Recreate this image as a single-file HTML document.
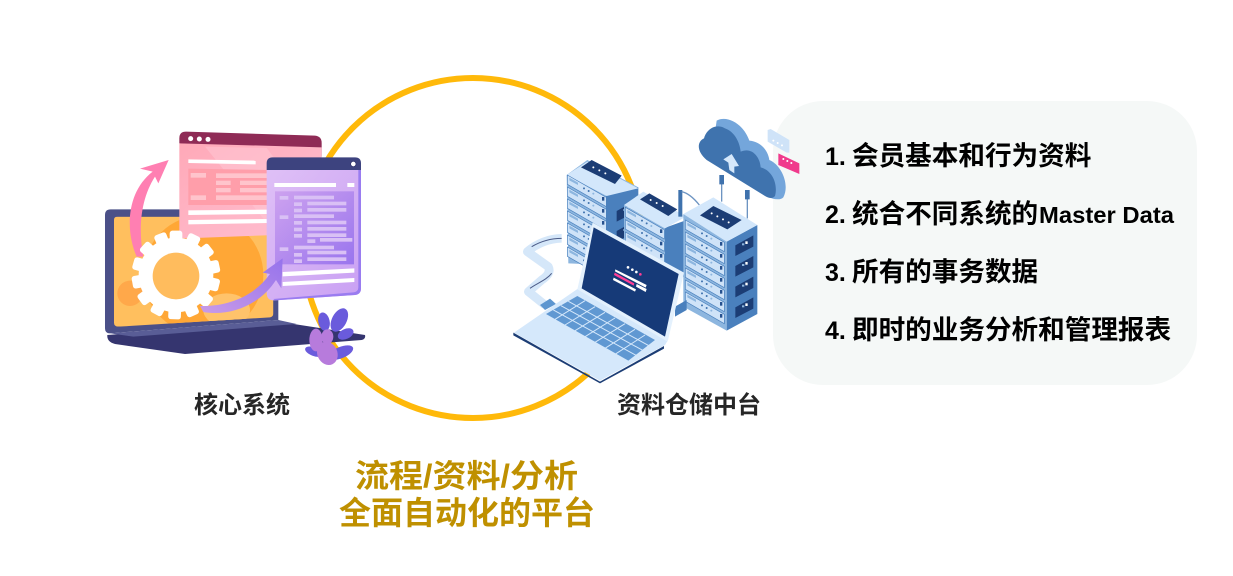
<!DOCTYPE html>
<html><head><meta charset="utf-8">
<style>
html,body{margin:0;padding:0;background:#fff;width:1233px;height:576px;overflow:hidden}
svg{display:block}
text{font-family:"Liberation Sans","Noto Sans CJK SC",sans-serif;font-weight:700}
</style></head>
<body>
<svg width="1233" height="576" viewBox="0 0 1233 576" xmlns="http://www.w3.org/2000/svg">
<defs>
<linearGradient id="pk" x1="0" y1="0" x2="1" y2="1"><stop offset="0" stop-color="#ffa9b8"/><stop offset="1" stop-color="#ffc0d2"/></linearGradient>
<linearGradient id="pu" x1="0" y1="0" x2="1" y2="1"><stop offset="0" stop-color="#dfc0f6"/><stop offset="1" stop-color="#c9a0f3"/></linearGradient>
<linearGradient id="in" x1="0" y1="0" x2="1" y2="1"><stop offset="0" stop-color="#cda2ef"/><stop offset="1" stop-color="#9a75ee"/></linearGradient>
<linearGradient id="ar" x1="0" y1="1" x2="1" y2="0"><stop offset="0" stop-color="#c99be8"/><stop offset="1" stop-color="#9673ec"/></linearGradient>
<clipPath id="scr"><path d="M72 300q0-10 10-10H540q10 0 10 10V580q0 10-10 12L85 620q-13 0-13-12Z"/></clipPath>
<g id="shelf">
<polygon points="0,0 117,67 117,95 0,28" fill="#cfe3f8" stroke="#4a80bd" stroke-width="2"/>
<polygon points="6,8 32,23 32,30 6,16" fill="#8db6df"/>
<circle cx="50" cy="40" r="3" fill="#3f72ad"/><circle cx="64" cy="48" r="3" fill="#3f72ad"/><circle cx="78" cy="56" r="3" fill="#8db6df"/>
<rect x="104" y="66" width="7" height="11" fill="#27528f"/>
</g>
<g id="port">
<polygon points="0,18 54,-12 54,22 0,50" fill="#1c3d75"/>
<rect x="30" y="6" width="7" height="8" fill="#fff"/><rect x="20" y="12" width="7" height="6" fill="#8db6df"/>
</g>
</defs>

<circle cx="473" cy="248" r="170" fill="none" stroke="#ffb90a" stroke-width="6"/>

<rect x="773" y="101" width="424" height="284" rx="50" ry="50" fill="#f5f8f7"/>

<!-- left illustration -->
<g transform="translate(90,120) scale(.33333)">
<path d="M45 285q0-17 17-17H550q15 0 15 15V600L60 640q-15 0-15-15Z" fill="#4b5088"/>
<path d="M52 645L565 605 825 645q3 12-10 15L285 702 75 672Q50 665 52 645Z" fill="#35356f"/>
<path d="M60 640L565 600 620 612 130 650Z" fill="#595d96"/>
<g clip-path="url(#scr)">
<rect x="72" y="290" width="480" height="330" fill="#ffbf5e"/>
<circle cx="340" cy="465" r="180" fill="#ffa736"/>
<ellipse cx="410" cy="570" rx="70" ry="50" fill="#ffc36b"/>
<circle cx="120" cy="520" r="38" fill="#ffa84a"/>
</g>

<path d="M268 55q0-20 20-20L675 47q20 2 20 22V110L268 70Z" fill="#8f2b56"/>
<path d="M268 70L695 82V340L285 355q-17 0-17-15Z" fill="url(#pk)"/>
<path d="M345 80L530 84 695 300V340L560 345Z" fill="#ffc6d3" opacity=".55"/>
<circle cx="302" cy="56" r="7.5" fill="#fff"/><circle cx="328" cy="57" r="7.5" fill="#fff"/><circle cx="354" cy="58" r="7.5" fill="#fff"/>
<polygon points="295,118 497,122 497,133 295,129" fill="#fff"/>
<polygon points="295,146 535,150 535,255 295,255" fill="#ff9eaa"/>
<g fill="#ffc4cc">
<rect x="302" y="159" width="46" height="14"/><rect x="378" y="160" width="155" height="14"/>
<rect x="378" y="182" width="44" height="13"/><rect x="450" y="182" width="85" height="13"/>
<rect x="378" y="204" width="44" height="13"/><rect x="450" y="204" width="85" height="13"/>
<rect x="302" y="226" width="46" height="14"/><rect x="378" y="226" width="155" height="14"/>
</g>
<polygon points="295,271 535,269 535,282 295,285" fill="#fff"/>
<polygon points="295,300 535,297 535,309 295,313" fill="#fff"/>

<path d="M140 410C105 330 110 215 188 155L150 146 236 120 205 190 195 170C150 240 145 330 160 410Z" fill="#ff7fb2"/>

<path d="M530 130q0-18 18-18H795q18 0 18 18V150L530 150Z" fill="#3d437f"/>
<path d="M530 150H813V505q0 18-18 20L555 541q-25 2-25-22Z" fill="url(#pu)"/>
<path d="M805 150H813V505q0 18-18 20L555 541l-5-4 240-20q15-2 15-15Z" fill="#9a7cf0"/>
<circle cx="790" cy="132" r="8" fill="#fff" stroke="#2a2f66" stroke-width="2"/>
<rect x="553" y="189" width="185" height="12" fill="#fff"/><rect x="772" y="189" width="21" height="12" fill="#fff"/>
<rect x="555" y="214" width="237" height="219" fill="url(#in)"/>
<g fill="#d9c0f5">
<rect x="569" y="228" width="26" height="11"/><rect x="612" y="227" width="120" height="11"/>
<rect x="612" y="247" width="24" height="11"/><rect x="652" y="245" width="117" height="11"/>
<rect x="612" y="266" width="24" height="11"/><rect x="652" y="264" width="117" height="11"/>
<rect x="569" y="286" width="26" height="11"/><rect x="612" y="283" width="120" height="11"/>
<rect x="612" y="303" width="24" height="11"/><rect x="652" y="302" width="117" height="11"/>
<rect x="612" y="323" width="24" height="11"/><rect x="652" y="321" width="117" height="11"/>
<rect x="612" y="342" width="24" height="11"/><rect x="652" y="340" width="117" height="11"/>
<rect x="652" y="358" width="24" height="11"/><rect x="690" y="354" width="97" height="11"/>
<rect x="569" y="382" width="26" height="11"/><rect x="612" y="377" width="120" height="11"/>
<rect x="612" y="399" width="24" height="11"/><rect x="652" y="392" width="117" height="11"/>
<rect x="612" y="418" width="24" height="11"/><rect x="652" y="412" width="117" height="11"/>
</g>
<polygon points="578,456 793,445 793,458 578,469" fill="#fff"/>
<polygon points="578,486 793,474 793,486 578,498" fill="#fff"/>

<g fill="#fff" transform="translate(258,465)">
<circle r="112"/>
<rect x="-19" y="-133" width="38" height="40" rx="8"/>
<rect x="-19" y="-133" width="38" height="40" rx="8" transform="rotate(26)"/>
<rect x="-19" y="-133" width="38" height="40" rx="8" transform="rotate(52)"/>
<rect x="-19" y="-133" width="38" height="40" rx="8" transform="rotate(78)"/>
<rect x="-19" y="-133" width="38" height="40" rx="8" transform="rotate(104)"/>
<rect x="-19" y="-133" width="38" height="40" rx="8" transform="rotate(130)"/>
<rect x="-19" y="-133" width="38" height="40" rx="8" transform="rotate(156)"/>
<rect x="-19" y="-133" width="38" height="40" rx="8" transform="rotate(182)"/>
<rect x="-19" y="-133" width="38" height="40" rx="8" transform="rotate(208)"/>
<rect x="-19" y="-133" width="38" height="40" rx="8" transform="rotate(234)"/>
<rect x="-19" y="-133" width="38" height="40" rx="8" transform="rotate(260)"/>
<rect x="-19" y="-133" width="38" height="40" rx="8" transform="rotate(286)"/>
<rect x="-19" y="-133" width="38" height="40" rx="8" transform="rotate(312)"/>
<rect x="-19" y="-133" width="38" height="40" rx="8" transform="rotate(338)"/>
</g>
<circle cx="258" cy="468" r="70" fill="#ffbc5d"/>

<path d="M330 558C420 560 495 525 540 462L518 458 578 415 574 505 558 480C510 555 420 590 340 576Z" fill="url(#ar)"/>

<g fill="#6a5bdc">
<ellipse cx="702" cy="605" rx="17" ry="28" transform="rotate(-12 702 605)"/>
<ellipse cx="748" cy="600" rx="22" ry="38" transform="rotate(28 748 600)"/>
<ellipse cx="767" cy="642" rx="25" ry="15" transform="rotate(-25 767 642)"/>
<ellipse cx="752" cy="698" rx="40" ry="17" transform="rotate(-22 752 698)"/>
<ellipse cx="672" cy="695" rx="28" ry="13" transform="rotate(20 672 695)"/>
</g>
<g fill="#b77bdc">
<ellipse cx="678" cy="660" rx="20" ry="34"/>
<ellipse cx="712" cy="700" rx="30" ry="36" transform="rotate(-25 712 700)"/>
<ellipse cx="712" cy="650" rx="18" ry="22"/>
</g>
</g>

<!-- right illustration -->
<g transform="translate(500,110) scale(.33333)">
<path d="M185 385C150 385 110 400 82 425L145 470Q155 490 125 510L85 545L135 585" fill="none" stroke="#d5e7f9" stroke-width="26" stroke-linejoin="round"/>
<path d="M185 385C150 385 120 395 95 410M155 490C140 510 110 520 90 535" fill="none" stroke="#4c5c88" stroke-width="3"/>
<polygon points="120,585 150,566 168,582 135,600" fill="#5d96d0"/>

<!-- cables -->
<path d="M665 195V275M742 240V325" stroke="#6d94c2" stroke-width="4" fill="none"/>
<path d="M658 195h14v28h-14zM735 240h14v28h-14z" fill="#3f72ad"/>

<!-- server 1 -->
<polygon points="200,195 262,150 415,232 380,260 318,255 318,465 205,460" fill="#8db6df"/>
<polygon points="318,255 415,232 415,400 318,460" fill="#4a80bd"/>
<polygon points="200,195 262,155 415,235 320,258" fill="#d3e7fb"/>
<polygon points="243,172 275,150 365,197 345,222" fill="#1c3d75"/>
<g fill="#fff"><circle cx="280" cy="172" r="3"/><circle cx="298" cy="181" r="3"/><circle cx="316" cy="190" r="3"/></g>
<use href="#port" x="350" y="285"/><use href="#port" x="350" y="345"/>
<use href="#shelf" x="202" y="195"/><use href="#shelf" x="202" y="231"/><use href="#shelf" x="202" y="267"/><use href="#shelf" x="202" y="303"/><use href="#shelf" x="202" y="339"/><use href="#shelf" x="202" y="375"/><use href="#shelf" x="202" y="411"/>

<!-- server 2 -->
<polygon points="490,355 560,330 560,500 490,500" fill="#4a80bd"/>
<polygon points="372,285 430,245 558,320 495,355" fill="#d3e7fb"/>
<polygon points="372,285 495,355 495,470 372,400" fill="#8db6df"/>
<polygon points="420,268 448,250 532,298 505,318" fill="#1c3d75"/>
<g fill="#fff"><circle cx="452" cy="270" r="3"/><circle cx="470" cy="279" r="3"/><circle cx="488" cy="288" r="3"/></g>
<use href="#shelf" x="376" y="292"/><use href="#shelf" x="376" y="329"/><use href="#shelf" x="376" y="366"/>

<path d="M541 320V240" fill="none" stroke="#3f72ad" stroke-width="12"/>
<path d="M545 245Q570 250 598 285" fill="none" stroke="#6d94c2" stroke-width="4"/>

<!-- server 3 -->
<polygon points="680,395 772,345 772,612 680,662" fill="#4a80bd"/>
<polygon points="550,312 640,262 772,345 680,395" fill="#d3e7fb"/>
<polygon points="550,312 680,395 680,662 550,590" fill="#8db6df"/>
<polygon points="600,316 640,288 725,330 682,358" fill="#1c3d75"/>
<g fill="#fff"><circle cx="635" cy="310" r="3"/><circle cx="652" cy="319" r="3"/><circle cx="669" cy="328" r="3"/><circle cx="686" cy="337" r="3"/></g>
<use href="#shelf" x="556" y="330"/><use href="#shelf" x="556" y="366"/><use href="#shelf" x="556" y="402"/><use href="#shelf" x="556" y="438"/><use href="#shelf" x="556" y="474"/><use href="#shelf" x="556" y="510"/><use href="#shelf" x="556" y="546"/>
<use href="#port" x="706" y="388"/><use href="#port" x="706" y="450"/><use href="#port" x="706" y="512"/><use href="#port" x="706" y="574"/>

<!-- laptop -->
<polygon points="525,590 560,570 560,600 525,620" fill="#4a80bd"/>
<polygon points="42,668 235,535 503,692 495,705 300,812" fill="#d5e8fb"/>
<polygon points="40,668 300,815 492,708 492,716 300,820 40,676" fill="#1c3d75"/>
<polygon points="138,612 232,558 465,690 385,752" fill="#6098d2"/>
<g stroke="#d5e8fb" stroke-width="3" fill="none">
<path d="M160 600L410 737M183 587L430 722M205 574L448 708"/>
<path d="M165 628L255 572M195 645L285 590M225 662L315 607M255 680L345 624M285 697L375 641M315 715L405 658M345 733L435 675"/>
</g>
<polygon points="278,338 552,488 503,695 232,538" fill="#e4f1fd"/>
<polygon points="281,352 536,492 495,680 245,535" fill="#163a78"/>
<g fill="#fff"><circle cx="384" cy="472" r="4"/><circle cx="397" cy="479" r="4"/><circle cx="409" cy="486" r="4"/></g>
<circle cx="421" cy="493" r="4" fill="#ff3d96"/>
<polygon points="346,478 440,525 437,533 345,484" fill="#fff"/>
<polygon points="344,488 403,520 401,527 342,495" fill="#ff3d96"/>
<polygon points="410,522 440,537 437,546 408,530" fill="#fff"/>
<polygon points="341,503 408,538 405,545 339,510" fill="#fff"/>

<!-- cloud -->
<path d="M650 32C680 15 730 40 748 92C785 95 805 125 808 150C845 165 870 225 850 262Q840 272 815 265L640 100Z" fill="#74a6db"/>
<path d="M620 150C590 125 590 95 612 85C620 55 650 40 675 55C705 65 720 100 722 125C755 110 780 140 782 172C815 180 835 220 825 258Q815 270 795 258Z" fill="#3f73ae"/>
<polygon points="670,148 695,132 717,168 703,170 703,190 688,180 685,158" fill="#d5e8fb"/>

<!-- messages -->
<polygon points="835,130 898,160 898,192 835,165" fill="#f03a8c"/>
<g fill="#fff"><circle cx="850" cy="147" r="3"/><circle cx="862" cy="153" r="3"/><circle cx="874" cy="159" r="3"/></g>
<polygon points="803,60 812,57 868,90 868,128 860,128 803,95" fill="#cfe3f8"/>
<g fill="#fff"><circle cx="820" cy="92" r="3"/><circle cx="833" cy="99" r="3"/><circle cx="846" cy="106" r="3"/></g>
</g>

<!-- text -->
<g fill="#000">
<text x="825" y="165" font-size="25">1.</text>
<text x="852" y="165" font-size="26.6">会员基本和行为资料</text>
<text x="825" y="223" font-size="25">2.</text>
<text x="852" y="223" font-size="26.6">统合不同系统的</text>
<text x="1039" y="223" font-size="23" textLength="135" lengthAdjust="spacingAndGlyphs">Master Data</text>
<text x="825" y="281" font-size="25">3.</text>
<text x="852" y="281" font-size="26.6">所有的事务数据</text>
<text x="825" y="339" font-size="25">4.</text>
<text x="852" y="339" font-size="26.6">即时的业务分析和管理报表</text>
</g>
<text x="194" y="413" font-size="24" fill="#262626" textLength="96" lengthAdjust="spacingAndGlyphs">核心系统</text>
<text x="617" y="413" font-size="24" fill="#262626" textLength="144" lengthAdjust="spacingAndGlyphs">资料仓储中台</text>
<text x="355" y="487" font-size="32" fill="#bf9000" textLength="223" lengthAdjust="spacingAndGlyphs">流程/资料/分析</text>
<text x="339" y="524" font-size="32" fill="#bf9000" textLength="256" lengthAdjust="spacingAndGlyphs">全面自动化的平台</text>
</svg>
</body></html>
